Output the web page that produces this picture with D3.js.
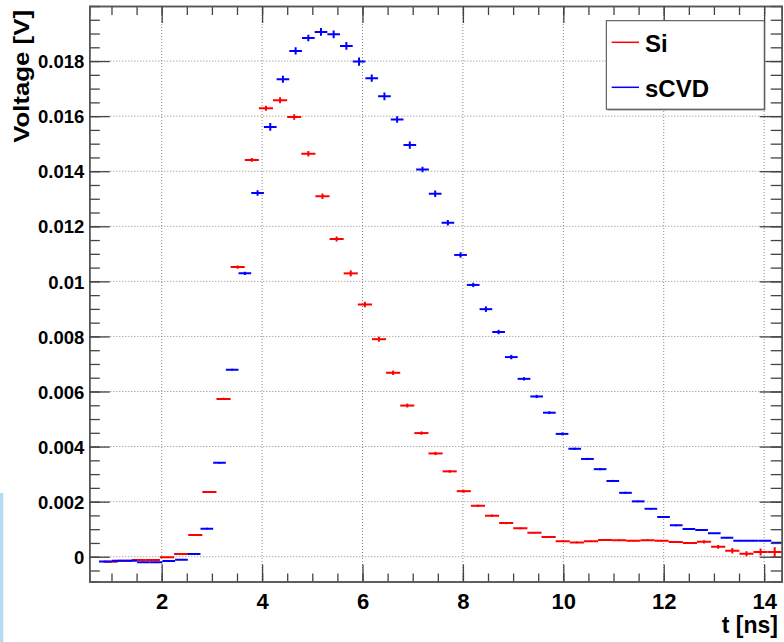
<!DOCTYPE html>
<html>
<head>
<meta charset="utf-8">
<script src="https://cdn.jsdelivr.net/npm/d3@7"></script>
<style>
  body { margin: 0; background: #fff; }
  text { font-family: "Liberation Sans", Arial, Helvetica, sans-serif; font-weight: bold; fill: #000; }
</style>
</head>
<body>
<div id="chart"></div>
<script>
// Si histogram: first drawn bin edge, bin width (ns), contents (V) and errors
var siStart = 0.8395;
var siBinWidth = 0.2815;
var siVolts = [
  -0.00018, -0.00015, -0.00012, -0.00012, -0.00002, 0.0001, 0.00079, 0.00235, 0.00573, 0.01052,
  0.01441, 0.01629, 0.01658, 0.01597, 0.01463, 0.01309, 0.01154, 0.01029, 0.00916, 0.0079,
  0.00668, 0.00549, 0.00449, 0.00375, 0.0031, 0.00238, 0.00185, 0.00149, 0.00122, 0.00103,
  0.00087, 0.00072, 0.00056, 0.00052, 0.00056, 0.00061, 0.0006, 0.00058, 0.0006, 0.00058,
  0.00053, 0.0005, 0.00054, 0.00036, 0.00022, 0.00011, 0.00017, 0.00017
];
var siErr = [
  0.00002, 0.00002, 0.00002, 0.00002, 0.00002, 0.00002, 0.00003, 0.00003, 0.00004, 0.00006,
  0.00007, 0.00009, 0.00011, 0.0001, 0.0001, 0.0001, 0.00009, 0.00011, 0.0001, 0.00009,
  0.00008, 0.00007, 0.00006, 0.00006, 0.00005, 0.00005, 0.00004, 0.00004, 0.00004, 0.00003,
  0.00003, 0.00003, 0.00003, 0.00003, 0.00003, 0.00003, 0.00003, 0.00003, 0.00003, 0.00003,
  0.00003, 0.00003, 0.00006, 0.00007, 0.0001, 0.00009, 0.00013, 0.00017
];

// sCVD histogram
var cvdStart = 0.751;
var cvdBinWidth = 0.2527;
var cvdVolts = [
  -0.00017, -0.00015, -0.00015, -0.0002, -0.0002, -0.00016, -0.00011, 0.0001, 0.00102, 0.00341,
  0.00679, 0.01029, 0.01321, 0.01561, 0.01734, 0.01837, 0.01884, 0.01906, 0.01897, 0.01855,
  0.01798, 0.01738, 0.01672, 0.01588, 0.01495, 0.01406, 0.01318, 0.01213, 0.01096, 0.00987,
  0.00899, 0.00816, 0.00725, 0.00646, 0.00582, 0.00523, 0.00446, 0.00392, 0.00355, 0.00318,
  0.00275, 0.00232, 0.00201, 0.00174, 0.00144, 0.00114, 0.00101, 0.00097, 0.00085, 0.00069,
  0.00058, 0.00058, 0.00058, 0.00051
];
var cvdErr = [
  0.00002, 0.00002, 0.00002, 0.00002, 0.00002, 0.00002, 0.00002, 0.00002, 0.00003, 0.00003,
  0.00004, 0.00006, 0.0001, 0.00014, 0.00013, 0.00013, 0.00012, 0.00014, 0.00014, 0.00014,
  0.00015, 0.00013, 0.00014, 0.00012, 0.00013, 0.0001, 0.00012, 0.0001, 0.0001, 0.00008,
  0.0001, 0.00008, 0.00008, 0.00006, 0.00006, 0.00005, 0.00005, 0.00004, 0.00004, 0.00004,
  0.00004, 0.00004, 0.00003, 0.00003, 0.00003, 0.00003, 0.00002, 0.00002, 0.00002, 0.00002,
  0.00002, 0.00002, 0.00002, 0.00002
];

// axes
var xDomain = [0.558, 14.35];
var yDomain = [-0.0009, 0.02];
var xMajor = [2, 4, 6, 8, 10, 12, 14];
var yMajor = [0, 0.002, 0.004, 0.006, 0.008, 0.01, 0.012, 0.014, 0.016, 0.018];

var legendItems = [
  {label: "Si", color: "#ff0000"},
  {label: "sCVD", color: "#0000ff"}
];

const margin = {top: 6, right: 2.3, bottom: 60.5, left: 89.3},
    width = 784 - margin.left - margin.right,
    height = 642 - margin.top - margin.bottom;

const root = d3.select("#chart")
  .append("svg")
    .attr("width", 784)
    .attr("height", 642);

// the pale blue strip at the bottom left of the original screenshot
root.append("rect")
  .attr("x", 0).attr("y", 493)
  .attr("width", 3.3).attr("height", 149)
  .attr("fill", "#b5dbf1");

const svg = root.append("g")
  .attr("transform", `translate(${margin.left},${margin.top})`);

const x = d3.scaleLinear().domain(xDomain).range([0, width]);
const y = d3.scaleLinear().domain(yDomain).range([height, 0]);

svg.append("clipPath").attr("id", "plotclip")
  .append("rect").attr("width", width).attr("height", height);

// dotted grid
svg.append("g").selectAll("line")
  .data(xMajor)
  .join("line")
    .attr("x1", d => x(d)).attr("x2", d => x(d))
    .attr("y1", 0).attr("y2", height)
    .attr("stroke", "#888").attr("stroke-dasharray", "1,2");
svg.append("g").selectAll("line")
  .data(yMajor)
  .join("line")
    .attr("y1", d => y(d)).attr("y2", d => y(d))
    .attr("x1", 0).attr("x2", width)
    .attr("stroke", "#888").attr("stroke-dasharray", "1,2");

// histogram with error bars (ROOT "E" style)
function drawHist(values, errs, start, bw, color) {
  var bins = values.map(function(v, i) {
    return {x0: start + i * bw, x1: start + (i + 1) * bw, v: v, e: errs[i]};
  });
  var g = svg.append("g").attr("clip-path", "url(#plotclip)");
  g.selectAll(".hbar")
    .data(bins)
    .join("line")
      .attr("x1", d => x(d.x0)).attr("x2", d => x(d.x1))
      .attr("y1", d => y(d.v)).attr("y2", d => y(d.v))
      .attr("stroke", color).attr("stroke-width", 2);
  g.selectAll(".vbar")
    .data(bins)
    .join("line")
      .attr("x1", d => x((d.x0 + d.x1) / 2)).attr("x2", d => x((d.x0 + d.x1) / 2))
      .attr("y1", d => y(d.v - d.e)).attr("y2", d => y(d.v + d.e))
      .attr("stroke", color).attr("stroke-width", 2);
}
drawHist(siVolts, siErr, siStart, siBinWidth, "#ff0000");
drawHist(cvdVolts, cvdErr, cvdStart, cvdBinWidth, "#0000ff");

// axes, ROOT style ticks pointing inwards
var xMinor = d3.range(1, 14.36, 0.5).filter(d => d >= xDomain[0]);
var yMinor = d3.range(-0.0005, 0.02, 0.0005);
var yFmt = d => String(+d.toFixed(3));

function styleAxis(g) {
  g.select(".domain").attr("stroke", "#555").attr("stroke-width", 1.5);
  g.selectAll(".tick line").attr("stroke", "#444").attr("stroke-width", 1.3);
}

svg.append("g").attr("transform", `translate(0,${height})`)
  .call(d3.axisBottom(x).tickValues(xMinor).tickSize(-8).tickFormat(""))
  .call(styleAxis);
svg.append("g").attr("transform", `translate(0,${height})`)
  .call(d3.axisBottom(x).tickValues(xMajor).tickSizeInner(-17).tickSizeOuter(0).tickPadding(12))
  .call(styleAxis)
  .call(g => g.selectAll("text").style("font-size", "22px").attr("fill", "#000"));

svg.append("g")
  .call(d3.axisTop(x).tickValues(xMinor).tickSize(-9).tickFormat(""))
  .call(styleAxis);
svg.append("g")
  .call(d3.axisTop(x).tickValues(xMajor).tickSizeInner(-17).tickSizeOuter(0).tickFormat(""))
  .call(styleAxis);

svg.append("g")
  .call(d3.axisLeft(y).tickValues(yMinor).tickSize(-10.5).tickFormat(""))
  .call(styleAxis);
svg.append("g")
  .call(d3.axisLeft(y).tickValues(yMajor).tickSizeInner(-20.5).tickSizeOuter(0).tickPadding(5).tickFormat(yFmt))
  .call(styleAxis)
  .call(g => g.selectAll("text").style("font-size", "18.5px").attr("fill", "#000").attr("dy", "0.36em"));

svg.append("g").attr("transform", `translate(${width},0)`)
  .call(d3.axisRight(y).tickValues(yMinor).tickSize(-11).tickFormat(""))
  .call(styleAxis);
svg.append("g").attr("transform", `translate(${width},0)`)
  .call(d3.axisRight(y).tickValues(yMajor).tickSizeInner(-22).tickSizeOuter(0).tickFormat(""))
  .call(styleAxis);

// axis titles
root.append("text")
  .attr("x", 778).attr("y", 633)
  .attr("text-anchor", "end")
  .style("font-size", "23px")
  .text("t [ns]");

root.append("text")
  .attr("transform", "translate(28.5,10) rotate(-90) scale(1.2,1)")
  .attr("text-anchor", "end")
  .style("font-size", "21.5px")
  .text("Voltage [V]");

// legend
const leg = root.append("g");
leg.append("rect")
  .attr("x", 607.5).attr("y", 22).attr("width", 158).attr("height", 88.5)
  .attr("fill", "#999");
leg.append("rect")
  .attr("x", 606.3).attr("y", 20.7).attr("width", 158).attr("height", 88.5)
  .attr("fill", "#fff").attr("stroke", "#444").attr("stroke-width", 1);
leg.selectAll(".item")
  .data(legendItems)
  .join("g")
    .attr("transform", (d, i) => `translate(0,${42.3 + i * 45})`)
    .each(function(d) {
      d3.select(this).append("line")
        .attr("x1", 611.7).attr("x2", 639).attr("y1", 0).attr("y2", 0)
        .attr("stroke", d.color).attr("stroke-width", 1.5);
      d3.select(this).append("text")
        .attr("x", 645).attr("y", 9.5)
        .style("font-size", "24px")
        .text(d.label);
    });
</script>
</body>
</html>
